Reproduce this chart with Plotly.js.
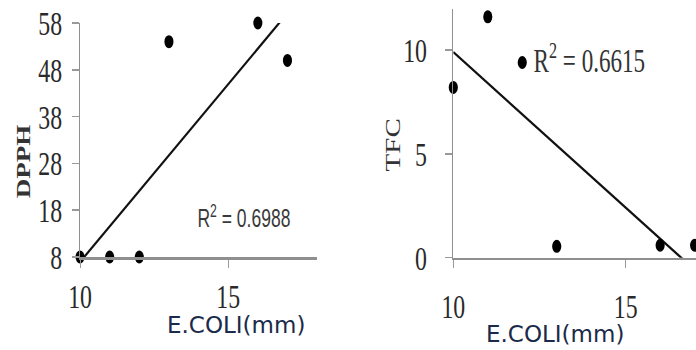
<!DOCTYPE html>
<html>
<head>
<meta charset="utf-8">
<script src="https://cdn.plot.ly/plotly-3.0.1.min.js"></script>
<style>
  html, body { margin: 0; padding: 0; background: #fff; }
  #wrap { position: relative; width: 696px; height: 350px; overflow: hidden; }
  /* the figure is laid out wide and then squeezed horizontally */
  #fig { position: absolute; left: 0; top: 0; width: 994px; height: 350px;
         transform: scaleX(0.70020); transform-origin: 0 0; }
  #labels { position: absolute; left: 0; top: 0; width: 696px; height: 350px; pointer-events: none; }
</style>
</head>
<body>
<div id="wrap">
  <div id="fig"></div>
  <div id="labels"></div>
</div>
<script>
// E. coli inhibition zone (mm) against antioxidant measures
const ecoli = [10, 11, 12, 13, 16, 17];
const dpph  = [8, 8, 8, 54, 58, 50];
const tfc   = [8.2, 11.6, 9.4, 0.55, 0.6, 0.6];

const dpphTicks = [8, 18, 28, 38, 48, 58];
const tfcTicks  = [0, 5, 10];
const xTicks    = [10, 15];

const r2Dpph = 'R<sup>2</sup> = 0.6988';
const r2Tfc  = 'R<sup>2</sup> = 0.6615';
const xLabel = 'E.COLI(mm)';

// ordinary least-squares line through the points
function fit(xs, ys) {
  const n = xs.length;
  const mx = xs.reduce((a, b) => a + b, 0) / n;
  const my = ys.reduce((a, b) => a + b, 0) / n;
  let sxy = 0, sxx = 0;
  for (let i = 0; i < n; i++) {
    sxy += (xs[i] - mx) * (ys[i] - my);
    sxx += (xs[i] - mx) * (xs[i] - mx);
  }
  const b = sxy / sxx;
  const a = my - b * mx;
  const x0 = Math.min(...xs), x1 = Math.max(...xs);
  return { x: [x0, x1], y: [a + b * x0, a + b * x1] };
}

const fitD = fit(ecoli, dpph);
const fitT = fit(ecoli, tfc);

const pointStyle = { color: '#000', size: 13 };
const lineStyle = { color: '#111', width: 2.6 };

const traces = [
  { x: fitD.x, y: fitD.y, mode: 'lines', line: lineStyle, xaxis: 'x', yaxis: 'y', hoverinfo: 'skip' },
  { x: ecoli, y: dpph, mode: 'markers', marker: pointStyle, xaxis: 'x', yaxis: 'y', cliponaxis: false },
  { x: fitT.x, y: fitT.y, mode: 'lines', line: lineStyle, xaxis: 'x2', yaxis: 'y2', hoverinfo: 'skip' },
  { x: ecoli, y: tfc, mode: 'markers', marker: pointStyle, xaxis: 'x2', yaxis: 'y2', cliponaxis: false }
];

const tickFont = { family: '"Liberation Serif", "Times New Roman", serif', size: 34, color: '#2a2a2a' };

function xAxis(domain, range, anchor, standoff) {
  return {
    domain: domain, range: range, anchor: anchor,
    tickmode: 'array', tickvals: xTicks, ticktext: xTicks.map(String),
    ticks: 'outside', ticklen: 8, tickwidth: 1.5, tickcolor: '#999',
    showline: true, linecolor: '#8f8f8f', linewidth: 2.6,
    showgrid: false, zeroline: false, tickfont: tickFont,
    ticklabelstandoff: standoff, automargin: false
  };
}
function yAxis(domain, range, anchor, ticks, standoff) {
  return {
    domain: domain, range: range, anchor: anchor,
    tickmode: 'array', tickvals: ticks, ticktext: ticks.map(String),
    ticks: 'outside', ticklen: 10, tickwidth: 1.5, tickcolor: '#999',
    showline: true, linecolor: '#8f8f8f', linewidth: 1.8,
    showgrid: false, zeroline: false, tickfont: tickFont,
    ticklabelstandoff: standoff, automargin: false
  };
}

const layout = {
  width: 994, height: 350,
  margin: { l: 0, r: 0, t: 0, b: 0, pad: 0 },
  paper_bgcolor: '#fff', plot_bgcolor: 'rgba(0,0,0,0)',
  showlegend: false,
  xaxis:  xAxis([0.115, 0.4556], [10, 18], 'y', 0),
  yaxis:  yAxis([0.2657, 0.9343], [8, 58], 'x', dpphTicks, 7),
  xaxis2: xAxis([0.6513, 1.0], [10, 17.04], 'y2', 9),
  yaxis2: yAxis([0.2637, 0.9757], [0, 12], 'x2', tfcTicks, 19),
  annotations: [
    { text: '<b>DPPH</b>', xref: 'paper', yref: 'paper', x: 0.0335, y: 0.54,
      textangle: -90, showarrow: false, xanchor: 'center', yanchor: 'middle',
      font: { family: '"Liberation Serif", serif', size: 27, color: '#333' } },
    { text: 'TFC', xref: 'paper', yref: 'paper', x: 0.5648, y: 0.5857,
      textangle: -90, showarrow: false, xanchor: 'center', yanchor: 'middle',
      font: { family: '"Liberation Serif", serif', size: 29, color: '#333' } },
    { text: r2Dpph, xref: 'paper', yref: 'paper', x: 0.3507, y: 0.3786,
      showarrow: false, xanchor: 'center', yanchor: 'middle',
      font: { family: '"Liberation Sans", Arial, sans-serif', size: 25, color: '#3a3a3a' } },
    { text: r2Tfc, xref: 'paper', yref: 'paper', x: 0.8465, y: 0.8357,
      showarrow: false, xanchor: 'center', yanchor: 'middle',
      font: { family: '"Liberation Serif", serif', size: 33, color: '#333' } }
  ]
};

Plotly.newPlot('fig', traces, layout, { staticPlot: true, displayModeBar: false });

// x-axis captions, kept at natural width
const capFont = { family: '"DejaVu Sans", "Open Sans", sans-serif', size: 23, color: '#1b2a4a' };
Plotly.newPlot('labels', [], {
  width: 696, height: 350,
  margin: { l: 0, r: 0, t: 0, b: 0 },
  paper_bgcolor: 'rgba(0,0,0,0)', plot_bgcolor: 'rgba(0,0,0,0)',
  xaxis: { visible: false }, yaxis: { visible: false },
  annotations: [
    { text: xLabel, xref: 'paper', yref: 'paper', x: 236 / 696, y: 1 - 325 / 350,
      showarrow: false, xanchor: 'center', yanchor: 'middle', font: capFont },
    { text: xLabel, xref: 'paper', yref: 'paper', x: 555 / 696, y: 1 - 334 / 350,
      showarrow: false, xanchor: 'center', yanchor: 'middle', font: capFont }
  ]
}, { staticPlot: true, displayModeBar: false });
</script>
</body>
</html>
